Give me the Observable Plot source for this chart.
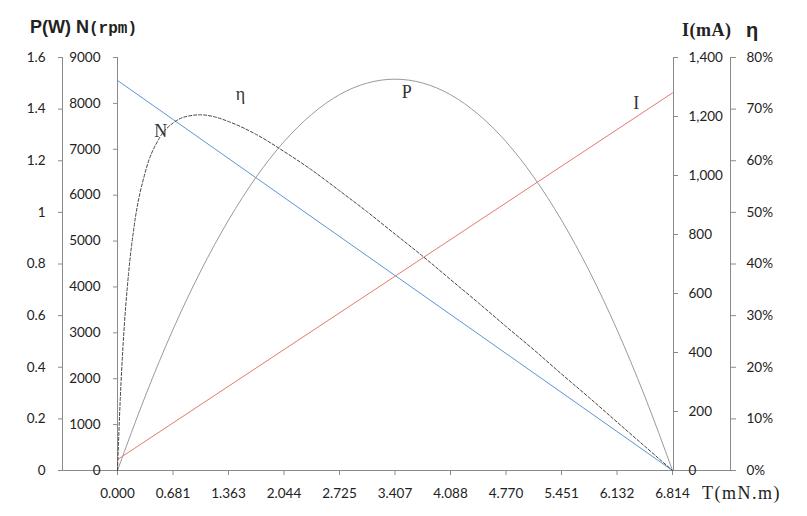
<!DOCTYPE html>
<html>
<head>
<meta charset="utf-8">
<script src="https://cdn.jsdelivr.net/npm/d3@7"></script>
<script src="https://cdn.jsdelivr.net/npm/@observablehq/plot@0.6"></script>
<style>
  html, body { margin: 0; padding: 0; background: #fff; }
  #wrap { position: relative; width: 807px; height: 516px; }
  .ttl { position: absolute; white-space: nowrap; color: #222; }
</style>
</head>
<body>
<div id="wrap">
  <div class="ttl" style="left:30px;top:17px;font:bold 18px 'Liberation Sans';line-height:20px;">P(W) N<span style="font-family:'Liberation Mono';font-size:16px;">(rpm)</span></div>
  <div class="ttl" style="left:682px;top:19px;font:bold 18px 'Liberation Serif';line-height:22px;letter-spacing:0.5px;">I(mA)</div>
  <div class="ttl" style="left:746px;top:19px;font:bold 20px 'Liberation Sans';line-height:22px;">η</div>
  <div class="ttl" style="left:702px;top:482px;font:18px 'Liberation Serif';line-height:22px;letter-spacing:1.5px;">T(mN.m)</div>
</div>
<script>
// ---- data ----
const torqueTicks = [0, 0.6814, 1.3628, 2.0442, 2.7256, 3.407, 4.0884, 4.7698, 5.4512, 6.1326, 6.814];
const torqueLabels = ["0.000", "0.681", "1.363", "2.044", "2.725", "3.407", "4.088", "4.770", "5.451", "6.132", "6.814"];

const speedT = [0, 6.814];
const speedN = [8500, 0];

const currentT = [0, 6.814];
const currentI = [37, 1280];

const powerT = [0, 0.341, 0.681, 1.022, 1.363, 1.703, 2.044, 2.385, 2.725, 3.066, 3.407,
                3.748, 4.088, 4.429, 4.770, 5.110, 5.451, 5.792, 6.132, 6.473, 6.814];
const powerW = [0, 0.288, 0.546, 0.773, 0.970, 1.137, 1.274, 1.380, 1.456, 1.501, 1.516,
                1.501, 1.456, 1.380, 1.274, 1.137, 0.970, 0.773, 0.546, 0.288, 0];

const effT = [0, 0.034, 0.068, 0.136, 0.204, 0.341, 0.511, 0.681, 0.852, 1.022, 1.192, 1.363,
              1.703, 2.044, 2.385, 2.725, 3.066, 3.407, 3.748, 4.088, 4.429, 4.770, 5.110,
              5.451, 5.792, 6.132, 6.473, 6.814];
const effPct = [0, 13.9, 24.2, 38.2, 47.3, 57.8, 64.3, 67.3, 68.6, 68.9, 68.5, 67.6,
                65.1, 61.8, 58.2, 54.2, 50.1, 45.8, 41.5, 37.0, 32.5, 27.9, 23.4,
                18.7, 14.1, 9.4, 4.7, 0];

const nTicks = [0, 1000, 2000, 3000, 4000, 5000, 6000, 7000, 8000, 9000];
const pTicks = [0, 0.2, 0.4, 0.6, 0.8, 1.0, 1.2, 1.4, 1.6];
const pLabels = ["0", "0.2", "0.4", "0.6", "0.8", "1", "1.2", "1.4", "1.6"];
const iTicks = [0, 200, 400, 600, 800, 1000, 1200, 1400];
const eTicks = [0, 10, 20, 30, 40, 50, 60, 70, 80];

const curveLabels = ["N", "η", "P", "I"];
const curveLabelT = [0.53, 1.51, 3.55, 6.37];
const curveLabelN = [7400, 8190, 8240, 8000];

// ---- scale conversions (secondary axes onto the N scale) ----
const nMax = 9000, pMax = 1.6, iMax = 1400, eMax = 80;
const fromP = p => p * nMax / pMax;
const fromI = i => i * nMax / iMax;
const fromE = e => e * nMax / eMax;

const speed = speedT.map((t, k) => ({T: t, v: speedN[k]}));
const current = currentT.map((t, k) => ({T: t, v: currentI[k]}));
const power = powerT.map((t, k) => ({T: t, v: powerW[k]}));
const eff = effT.map((t, k) => ({T: t, v: effPct[k]}));
const labels = curveLabels.map((s, k) => ({s, T: curveLabelT[k], v: curveLabelN[k]}));

const axisColor = "#8a8a8a";
const tfont = "Lato";

const chart = Plot.plot({
  width: 807,
  height: 516,
  marginLeft: 117,
  marginRight: 135,
  marginTop: 57,
  marginBottom: 46,
  x: {domain: [0, 6.814]},
  y: {domain: [0, nMax]},
  style: {fontFamily: tfont, fontSize: "13.5px", color: "#222", background: "transparent", overflow: "visible"},
  marks: [
    // axis lines
    Plot.ruleY([0], {x1: -0.68, x2: 7.56, stroke: axisColor}),
    Plot.ruleX([0], {y1: 0, y2: nMax, stroke: axisColor}),
    Plot.ruleX([0], {y1: 0, y2: nMax, stroke: axisColor, dx: -55}),
    Plot.ruleX([6.814], {y1: 0, y2: nMax, stroke: axisColor, dx: 1}),
    Plot.ruleX([6.814], {y1: 0, y2: nMax, stroke: axisColor, dx: 58}),
    // axes
    Plot.axisX(torqueTicks, {anchor: "bottom", tickSize: 5, tickPadding: 13, stroke: axisColor,
      tickFormat: (d, i) => torqueLabels[i], label: null}),
    Plot.axisY(nTicks, {anchor: "left", tickSize: 4, tickPadding: 13, stroke: axisColor,
      tickFormat: d => String(d), label: null}),
    Plot.axisY(pTicks.map(fromP), {anchor: "left", dx: -55, tickSize: 4, tickPadding: 13, stroke: axisColor,
      tickFormat: (d, i) => pLabels[i], label: null}),
    Plot.axisY(iTicks.map(fromI), {anchor: "right", dx: 1, tickSize: 4, tickPadding: 11, stroke: axisColor,
      tickFormat: (d, i) => d3.format(",")(iTicks[i]), label: null}),
    Plot.axisY(eTicks.map(fromE), {anchor: "right", dx: 58, tickSize: 5, tickPadding: 11, stroke: axisColor,
      tickFormat: (d, i) => eTicks[i] + "%", label: null}),
    // series
    Plot.line(speed, {x: "T", y: "v", stroke: "#5b95d8", strokeWidth: 1}),
    Plot.line(current, {x: "T", y: d => fromI(d.v), stroke: "#e27a70", strokeWidth: 1}),
    Plot.line(power, {x: "T", y: d => fromP(d.v), stroke: "#9a9a9a", strokeWidth: 1, curve: "monotone-x"}),
    Plot.line(eff, {x: "T", y: d => fromE(d.v), stroke: "#444", strokeWidth: 1, strokeDasharray: "3,2", curve: "monotone-x"}),
    // curve labels
    Plot.text(labels, {x: "T", y: "v", text: "s", fontFamily: "Liberation Serif", fontSize: 18, fill: "#333"})
  ]
});
chart.style.position = "absolute";
chart.style.left = "0";
chart.style.top = "0";
document.getElementById("wrap").prepend(chart);
</script>
</body>
</html>
